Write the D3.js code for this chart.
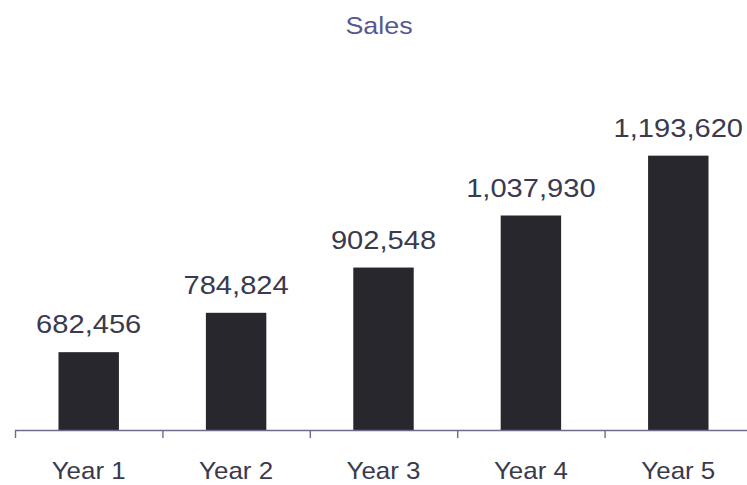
<!DOCTYPE html>
<html>
<head>
<meta charset="utf-8">
<script src="https://cdn.jsdelivr.net/npm/d3@7/dist/d3.min.js"></script>
<style>
  html, body { margin: 0; padding: 0; background: #ffffff; }
  svg { display: block; }
  text { font-family: "Liberation Sans", Arial, Helvetica, sans-serif; }
</style>
</head>
<body>
<svg id="chart" width="747" height="485"></svg>
<script>
// Sales by year
const categories = ["Year 1", "Year 2", "Year 3", "Year 4", "Year 5"];
const sales = [682456, 784824, 902548, 1037930, 1193620];
const chartTitle = "Sales";

const W = 747, H = 485;
const baseY = 430;

const svg = d3.select("#chart");

// category slots (tick marks sit on slot edges)
const slot = d3.scaleBand().domain(categories).range([15, 752]).padding(0);
// bars centred in each slot
const x = d3.scaleBand().domain(categories).range([15, 752])
  .paddingInner(0.59).paddingOuter(0.295);
const y = d3.scaleLinear().domain([480000, 1200000]).range([baseY, 153.2]);

const fmt = d3.format(",");

// title
svg.append("text")
  .attr("transform", "translate(379,34) scale(1.12,1)")
  .attr("text-anchor", "middle")
  .attr("font-size", 24)
  .attr("fill", "#58588e")
  .text(chartTitle);

// bars
svg.append("g").selectAll("rect")
  .data(categories)
  .join("rect")
  .attr("x", d => x(d))
  .attr("width", x.bandwidth())
  .attr("y", (d, i) => y(sales[i]))
  .attr("height", (d, i) => baseY - y(sales[i]))
  .attr("fill", "#27272d");

// value labels
svg.append("g").selectAll("text")
  .data(categories)
  .join("text")
  .attr("transform", (d, i) =>
    `translate(${x(d) + x.bandwidth() / 2},${y(sales[i]) - 19}) scale(1.12,1)`)
  .attr("text-anchor", "middle")
  .attr("font-size", 26)
  .attr("fill", "#3a3a4e")
  .text((d, i) => fmt(sales[i]));

// axis line and ticks
const axis = svg.append("g");
axis.append("line")
  .attr("x1", slot(categories[0])).attr("x2", W)
  .attr("y1", baseY + 0.5).attr("y2", baseY + 0.5)
  .attr("stroke", "#6c6c88").attr("stroke-width", 1.4);
axis.selectAll(".tick")
  .data(categories)
  .join("line")
  .attr("class", "tick")
  .attr("x1", d => slot(d) + 0.5).attr("x2", d => slot(d) + 0.5)
  .attr("y1", baseY).attr("y2", baseY + 8)
  .attr("stroke", "#6c6c88").attr("stroke-width", 1.4);

// category labels
axis.selectAll(".cat")
  .data(categories)
  .join("text")
  .attr("class", "cat")
  .attr("transform", d =>
    `translate(${x(d) + x.bandwidth() / 2},479) scale(1.08,1)`)
  .attr("text-anchor", "middle")
  .attr("font-size", 24)
  .attr("fill", "#3a3a4e")
  .text(d => d);
</script>
</body>
</html>
